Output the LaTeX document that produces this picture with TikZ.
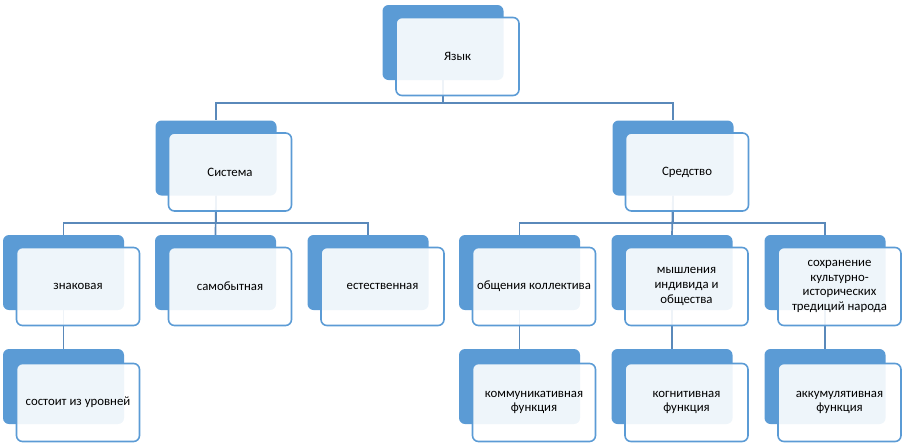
\documentclass[tikz,border=0pt]{standalone}
\usepackage{fontspec}
\setmainfont{Carlito}
\usepackage{tikz}
\usetikzlibrary{positioning}
\usepackage{xcolor}
\definecolor{accent}{HTML}{5B9BD5}
\definecolor{linkcol}{HTML}{5A89BA}
\tikzset{
  backbox/.style={fill=accent,rounded corners=6pt,minimum width=121pt,minimum height=75pt,inner sep=0pt},
  frontbox/.style={draw=accent,line width=1.6pt,fill=white,fill opacity=0.9,text opacity=1,
    rounded corners=6pt,minimum width=123pt,minimum height=78pt,inner sep=0pt,align=center,
    font=\fontsize{12.8}{14.8}\selectfont},
  link/.style={draw=linkcol,line width=1.7pt}
}
\begin{document}
\begin{tikzpicture}[x=1pt,y=-1pt]
                \useasboundingbox(0,0)rectangle(902,445);
                % back boxes
                \node[backbox](yazyk)at(443,42.5){};
                \node[backbox](sistema)at(216,158){};
                \node[backbox](sredstvo)at(673,158){};
                \node[backbox](znak)at(63.5,272.5){};
                \node[backbox](samob)at(215.5,272.5){};
                \node[backbox](estest)at(368,272.5){};
                \node[backbox](obsch)at(519.5,272.5){};
                \node[backbox](myshl)at(672,272.5){};
                \node[backbox](sohr)at(825,272.5){};
                \node[backbox](urovni)at(63.5,386.5){};
                \node[backbox](kommun)at(519.5,386.5){};
                \node[backbox](kogn)at(672,386.5){};
                \node[backbox](akkum)at(825,386.5){};
                % connectors
                \draw[link](yazyk.south)--++(0,23)-|(sistema.north);
                \draw[link](yazyk.south)--++(0,23)-|(sredstvo.north);
                \draw[link](sistema.south)--++(0,27)-|(znak.north);
                \draw[link](sistema.south)--(samob.north);
                \draw[link](sistema.south)--++(0,27)-|(estest.north);
                \draw[link](sredstvo.south)--++(0,27)-|(obsch.north);
                \draw[link](sredstvo.south)--(myshl.north);
                \draw[link](sredstvo.south)--++(0,27)-|(sohr.north);
                \draw[link](znak.south)--(urovni.north);
                \draw[link](obsch.south)--(kommun.north);
                \draw[link](myshl.south)--(kogn.north);
                \draw[link](sohr.south)--(akkum.north);
                % front boxes
                \node[frontbox](yazykT)at(457.5,56.5){Язык};
                \node[frontbox](sistemaT)at(230,172){Система};
                \node[frontbox](sredstvoT)at(687,172){Средство};
                \node[frontbox](znakT)at(78,286.5){знаковая};
                \node[frontbox](samobT)at(230,286.5){самобытная};
                \node[frontbox](estestT)at(382.5,286.5){естественная};
                \node[frontbox](obschT)at(534,286.5){общения коллектива};
                \node[frontbox](myshlT)at(686.5,286.5){мышления\\индивида и\\общества};
                \node[frontbox](sohrT)at(839.5,286.5){сохранение\\культурно-\\исторических\\тредиций народа};
                \node[frontbox](urovniT)at(78,402.5){состоит из уровней};
                \node[frontbox](kommunT)at(534,402.5){коммуникативная\\функция};
                \node[frontbox](kognT)at(686.5,402.5){когнитивная\\функция};
                \node[frontbox](akkumT)at(839.5,402.5){аккумулятивная\\функция};
\end{tikzpicture}
\end{document}
